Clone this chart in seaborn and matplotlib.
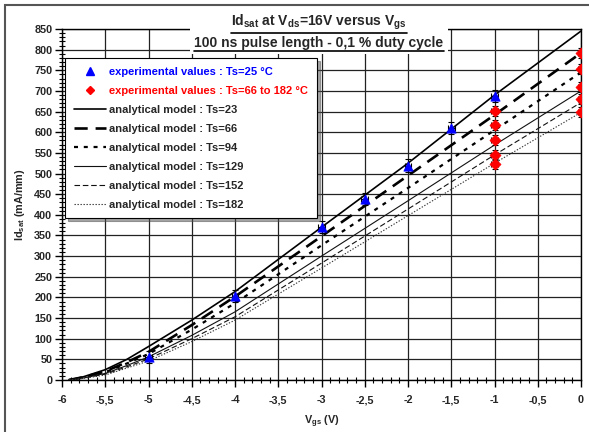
import matplotlib
matplotlib.use("Agg")
import matplotlib.pyplot as plt
import matplotlib.ticker as mticker
from matplotlib.lines import Line2D
from matplotlib.patches import Rectangle
import numpy as np
import pandas as pd
import seaborn as sns

# ---------------- data ----------------
vgs_model = [-5.92, -5.75, -5.5, -5.25, -5.0, -4.5, -4.0, -3.0, -2.0, -1.0, 0.0]
ts23 = [0, 8, 25, 50, 81, 145, 214, 370, 525, 690, 845]
ts66 = [0, 7, 21, 43, 68, 133, 202, 348, 495, 642, 792]
ts94 = [0, 6, 19, 40, 63, 122, 186, 326, 465, 605, 745]
ts129 = [0, 5, 16, 35, 56, 108, 165, 300, 434, 569, 700]
ts152 = [0, 5, 14, 32, 51, 100, 153, 283, 414, 545, 672]
ts182 = [0, 4, 12, 29, 46, 93, 145, 271, 398, 525, 648]

blue_vgs = [-5, -4, -3, -2.5, -2, -1.5, -1]
blue_id = [56, 203, 370, 438, 519, 610, 688]
red_vgs = [-1, -1, -1, -1, -1, 0, 0, 0, 0, 0]
red_id = [652, 617, 581, 545, 523, 791, 753, 710, 681, 650]

model_labels = ["analytical model : Ts=23", "analytical model : Ts=66",
                "analytical model : Ts=94", "analytical model : Ts=129",
                "analytical model : Ts=152", "analytical model : Ts=182"]
blue_label = "experimental values : Ts=25 °C"
red_label = "experimental values : Ts=66 to 182 °C"
title1 = r"Id$_{sat}$ at V$_{ds}$=16V versus V$_{gs}$"
title2 = "100 ns pulse length - 0,1 % duty cycle"
xlabel = r"V$_{gs}$ (V)"
ylabel = r"Id$_{sat}$ (mA/mm)"

# ---------------- style ----------------
sns.set_theme(style="white")
plt.rcParams["font.family"] = ["Liberation Sans", "DejaVu Sans"]
plt.rcParams["font.weight"] = "bold"
plt.rcParams["mathtext.default"] = "bf"
plt.rcParams["mathtext.fontset"] = "custom"
plt.rcParams["mathtext.bf"] = "Liberation Sans:bold"
plt.rcParams["mathtext.rm"] = "Liberation Sans:bold"
plt.rcParams["mathtext.it"] = "Liberation Sans:bold"

fig = plt.figure(figsize=(5.89, 4.32), dpi=100)
ax = fig.add_axes([62 / 589, 1 - 380 / 432, 519 / 589, 351 / 432])
ax.set_facecolor("white")

styles = [
    dict(color="black", lw=1.2, dashes=(None, None)),
    dict(color="black", lw=1.9, dashes=(5, 3)),
    dict(color="black", lw=1.6, dashes=(1.8, 2.6)),
    dict(color="#111111", lw=0.8, dashes=(None, None)),
    dict(color="#111111", lw=0.8, dashes=(5, 2.5)),
    dict(color="#333333", lw=0.8, dashes=(1.2, 1.5)),
]
series = [ts23, ts66, ts94, ts129, ts152, ts182]
handles = []
for vals, st, lab in zip(series, styles, model_labels):
    df = pd.DataFrame({"vgs": vgs_model, "id": vals})
    kw = {}
    if st["dashes"][0] is not None:
        kw["dashes"] = st["dashes"]
    sns.lineplot(data=df, x="vgs", y="id", ax=ax, color=st["color"],
                 linewidth=st["lw"], zorder=3, **kw)
    h = Line2D([], [], color=st["color"], lw=st["lw"])
    if st["dashes"][0] is not None:
        h.set_dashes(st["dashes"])
    handles.append(h)

# error bars
ax.errorbar(blue_vgs, blue_id, yerr=15, xerr=0.04, fmt="none", ecolor="black",
            elinewidth=0.8, capsize=2, capthick=0.8, zorder=4)
ax.errorbar(red_vgs, red_id, yerr=12, xerr=0.04, fmt="none", ecolor="black",
            elinewidth=0.8, capsize=2, capthick=0.8, zorder=4)
sns.scatterplot(x=blue_vgs, y=blue_id, ax=ax, marker="^", color="#0000ff",
                s=45, edgecolor="#0000ff", linewidth=0.5, zorder=5)
sns.scatterplot(x=red_vgs, y=red_id, ax=ax, marker="D", color="#ff0000",
                s=32, edgecolor="#ff0000", linewidth=0.5, zorder=5)

# axes formatting
ax.set_xlim(-6, 0)
ax.set_ylim(0, 850)
ax.xaxis.set_major_locator(mticker.MultipleLocator(0.5))
ax.xaxis.set_minor_locator(mticker.MultipleLocator(0.1))
ax.yaxis.set_major_locator(mticker.MultipleLocator(50))
ax.yaxis.set_minor_locator(mticker.MultipleLocator(10))
ax.xaxis.set_major_formatter(mticker.FuncFormatter(lambda v, p: ("%g" % round(v, 2)).replace(".", ",")))
ax.yaxis.set_major_formatter(mticker.FuncFormatter(lambda v, p: "%d" % round(v)))
ax.tick_params(axis="both", which="major", direction="out", length=5, width=1,
               color="black", labelsize=7.8)
ax.tick_params(axis="both", which="minor", direction="inout", length=4, width=0.8,
               color="black")
ax.tick_params(axis="x", which="major", pad=6)
ax.tick_params(axis="y", which="major", pad=2)
ax.tick_params(bottom=True, left=True, which="both")
for lab in ax.get_xticklabels() + ax.get_yticklabels():
    lab.set_fontweight("bold")
ax.grid(True, which="major", color="#222222", lw=0.9)
ax.set_axisbelow(True)
for s in ax.spines.values():
    s.set_color("black")
    s.set_linewidth(1)

ax.set_xlabel(xlabel, fontsize=7.8, fontweight="bold", labelpad=6)
ax.set_ylabel(ylabel, fontsize=7.8, fontweight="bold", labelpad=5)

# legend
h_blue = Line2D([], [], marker="^", color="#0000ff", ls="none", markersize=6)
h_red = Line2D([], [], marker="D", color="#ff0000", ls="none", markersize=4.5)
leg = ax.legend([h_blue, h_red] + handles, [blue_label, red_label] + model_labels,
                loc="upper left", bbox_to_anchor=(0.006, 0.916), borderaxespad=0,
                frameon=True, fancybox=False, shadow=True,
                edgecolor="black", framealpha=1, handlelength=2.9,
                handletextpad=0.25, labelspacing=0.8, borderpad=0.8,
                prop={"weight": "bold", "size": 8})
leg.get_frame().set_linewidth(0.8)
leg.set_zorder(10)
txts = leg.get_texts()
txts[0].set_color("#0000ff")
txts[1].set_color("#ff0000")

# title block with white background
fig.add_artist(Rectangle((190 / 589, 1 - 54 / 432), 258 / 589, 46 / 432,
                         transform=fig.transFigure, facecolor="white",
                         edgecolor="none", zorder=5))
t1 = fig.text(319 / 589, 1 - 22 / 432, title1, ha="center", va="center",
              fontsize=10, fontweight="bold", zorder=6)
t2 = fig.text(319 / 589, 1 - 43 / 432, title2, ha="center", va="center",
              fontsize=10, fontweight="bold", zorder=6)

# figure border
fig.add_artist(Rectangle((5 / 589, -0.05), 1.2, 1 - 5 / 432 + 0.05,
                         transform=fig.transFigure, facecolor="none",
                         edgecolor="#555555", lw=1.5, zorder=7))

fig.canvas.draw()
r = fig.canvas.get_renderer()
for t in (t1, t2):
    bb = t.get_window_extent(renderer=r)
    y = bb.y0 - 1
    fig.add_artist(Line2D([bb.x0 / 589, bb.x1 / 589], [y / 432, y / 432],
                          transform=fig.transFigure, color="black", lw=1.2, zorder=6))

fig.savefig("out.png", dpi=100)
